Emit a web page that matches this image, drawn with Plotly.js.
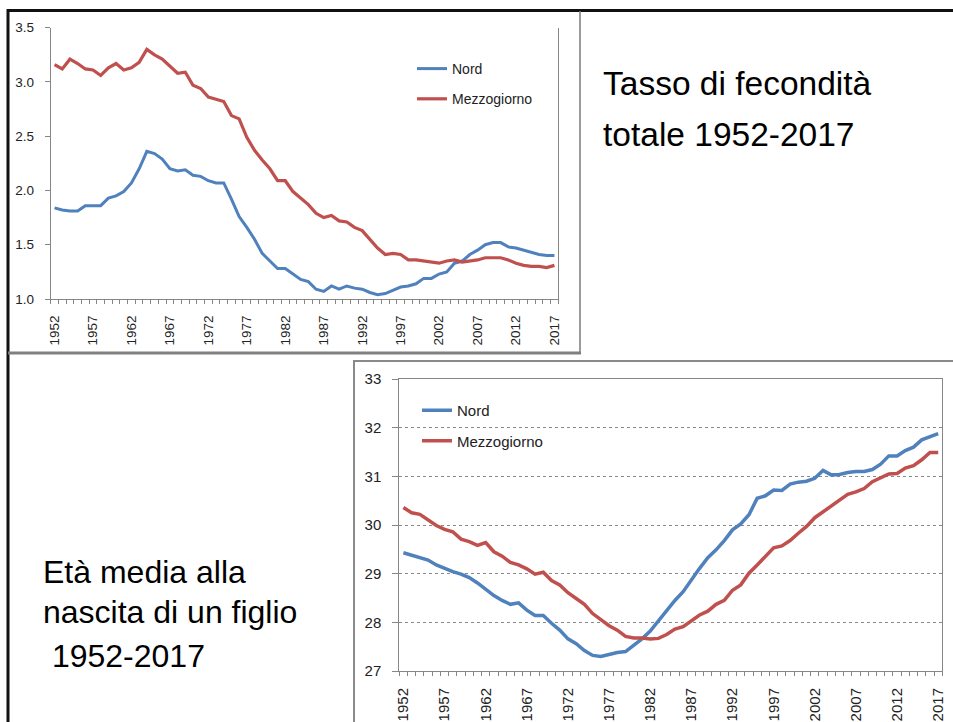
<!DOCTYPE html>
<html>
<head>
<meta charset="utf-8">
<script src="https://cdn.plot.ly/plotly-3.0.1.min.js"></script>
<style>html,body{margin:0;padding:0;background:#fff;}#chart{width:953px;height:722px;}</style>
</head>
<body>
<div id="chart"></div>
<script>
var years = [1952,1953,1954,1955,1956,1957,1958,1959,1960,1961,
  1962,1963,1964,1965,1966,1967,1968,1969,1970,1971,
  1972,1973,1974,1975,1976,1977,1978,1979,1980,1981,
  1982,1983,1984,1985,1986,1987,1988,1989,1990,1991,
  1992,1993,1994,1995,1996,1997,1998,1999,2000,2001,
  2002,2003,2004,2005,2006,2007,2008,2009,2010,2011,
  2012,2013,2014,2015,2016,2017];
var yearLabels = [1952,1957,1962,1967,1972,1977,1982,1987,1992,1997,2002,2007,2012,2017];

// Tasso di fecondità totale
var tfrNord = [1.84,1.82,1.81,1.81,1.86,1.86,1.86,1.93,1.95,1.99,
  2.07,2.20,2.36,2.34,2.29,2.20,2.18,2.19,2.14,2.13,
  2.09,2.07,2.07,1.92,1.76,1.66,1.55,1.42,1.35,1.28,
  1.28,1.23,1.18,1.16,1.09,1.07,1.12,1.09,1.12,1.10,
  1.09,1.06,1.04,1.05,1.08,1.11,1.12,1.14,1.19,1.19,
  1.23,1.25,1.33,1.35,1.41,1.45,1.50,1.52,1.52,1.48,
  1.47,1.45,1.43,1.41,1.40,1.40];
var tfrMezz = [3.16,3.12,3.21,3.17,3.12,3.11,3.06,3.13,3.17,3.11,
  3.13,3.18,3.30,3.25,3.21,3.14,3.08,3.09,2.97,2.94,
  2.86,2.84,2.82,2.69,2.66,2.49,2.37,2.28,2.20,2.09,
  2.09,1.99,1.93,1.87,1.79,1.75,1.77,1.72,1.71,1.66,
  1.63,1.55,1.47,1.41,1.42,1.41,1.36,1.36,1.35,1.34,
  1.33,1.35,1.36,1.34,1.35,1.36,1.38,1.38,1.38,1.36,
  1.33,1.31,1.30,1.30,1.29,1.31];

// Età media alla nascita di un figlio
var ageNord = [29.43,29.38,29.34,29.28,29.18,29.11,29.04,28.99,28.92,28.81,
  28.68,28.55,28.45,28.37,28.40,28.25,28.14,28.14,27.98,27.84,
  27.66,27.56,27.42,27.32,27.30,27.34,27.38,27.40,27.52,27.66,
  27.82,28.03,28.25,28.45,28.63,28.88,29.11,29.33,29.49,29.68,
  29.90,30.02,30.21,30.55,30.60,30.72,30.71,30.84,30.88,30.90,
  30.96,31.12,31.03,31.04,31.08,31.10,31.10,31.14,31.25,31.42,
  31.42,31.53,31.60,31.75,31.82,31.88];
var ageMezz = [30.36,30.25,30.22,30.11,29.99,29.91,29.86,29.71,29.66,29.58,
  29.64,29.45,29.36,29.23,29.18,29.10,28.99,29.03,28.86,28.77,
  28.61,28.49,28.37,28.18,28.05,27.93,27.84,27.71,27.68,27.68,
  27.66,27.67,27.75,27.86,27.91,28.03,28.15,28.23,28.37,28.45,
  28.66,28.77,29.01,29.18,29.36,29.53,29.57,29.68,29.83,29.97,
  30.15,30.27,30.40,30.51,30.63,30.68,30.75,30.89,30.98,31.05,
  31.06,31.17,31.22,31.34,31.49,31.49];

var seriesNames = ['Nord','Mezzogiorno'];
var blue = '#4F81BD', red = '#C0504D';
var W = 953, H = 722;
function px(x){return x/W;}
function py(y){return 1 - y/H;}

var FONT = 'Liberation Sans, Arial, sans-serif';
var axisGray = '#868686';

var traces = [
  {x: years, y: tfrNord, name: seriesNames[0], type:'scatter', mode:'lines', line:{color:blue, width:3}, xaxis:'x', yaxis:'y', legend:'legend', legendgroup:'a1'},
  {x: years, y: tfrMezz, name: seriesNames[1], type:'scatter', mode:'lines', line:{color:red, width:3.2}, xaxis:'x', yaxis:'y', legend:'legend', legendgroup:'a2'},
  {x: years, y: ageNord, name: seriesNames[0], type:'scatter', mode:'lines', line:{color:blue, width:3.5}, xaxis:'x2', yaxis:'y2', legend:'legend2', legendgroup:'b1'},
  {x: years, y: ageMezz, name: seriesNames[1], type:'scatter', mode:'lines', line:{color:red, width:3.5}, xaxis:'x2', yaxis:'y2', legend:'legend2', legendgroup:'b2'}
];

function xAxis(domain, anchor, fs, mirror){
  return {
    domain: domain, anchor: anchor, range:[1951.5, 2017.5],
    tickmode:'array', tickvals: yearLabels, ticktext: yearLabels.map(String),
    tickangle: -90, ticks:'outside', ticklen: 10, tickcolor:'rgba(0,0,0,0)',
    tickfont:{family:FONT, size:fs, color:'#222'},
    showline:true, linecolor:axisGray, linewidth:1, mirror: mirror,
    showgrid:false, zeroline:false, fixedrange:true,
    minor:{ticks:'outside', ticklen:4, tickcolor:axisGray, tickwidth:1, tickmode:'linear', tick0:1951.5, dtick:1, showgrid:false}
  };
}

var layout = {
  width: W, height: H,
  margin:{l:0,r:0,t:0,b:0, autoexpand:false},
  paper_bgcolor:'#fff', plot_bgcolor:'rgba(0,0,0,0)',
  showlegend:true,
  xaxis: xAxis([px(50.7), px(558.3)], 'y', 13.5, false),
  yaxis: {
    domain:[py(299), py(27.7)], anchor:'x', range:[1, 3.5], dtick:0.5, tick0:1, tickformat:'.1f',
    ticks:'outside', ticklen:5, tickcolor:axisGray, ticklabelstandoff:8,
    tickfont:{family:FONT, size:13.5, color:'#222'},
    showline:true, linecolor:axisGray, linewidth:1, mirror:true,
    showgrid:false, zeroline:false, fixedrange:true
  },
  yaxis3: {
    overlaying:'y', anchor:'x', range:[1, 3.5], tickmode:'array', tickvals:[2.0, 2.5, 3.5],
    showticklabels:false, ticks:'', showgrid:true, gridcolor:'#8a8a8a', griddash:'dot', gridwidth:1,
    zeroline:false, showline:false, fixedrange:true
  },
  xaxis2: xAxis([px(399.3), px(942.3)], 'y2', 15, true),
  yaxis2: {
    domain:[py(671), py(379)], anchor:'x2', range:[27, 33], dtick:1, tick0:27,
    ticks:'outside', ticklen:6, tickcolor:axisGray, ticklabelstandoff:8,
    tickfont:{family:FONT, size:15, color:'#222'},
    showline:true, linecolor:axisGray, linewidth:1, mirror:true,
    showgrid:true, gridcolor:'#8a8a8a', griddash:'dot', gridwidth:1,
    zeroline:false, fixedrange:true
  },
  legend: {
    x: px(412), y: py(53), xanchor:'left', yanchor:'top', bgcolor:'rgba(0,0,0,0)', borderwidth:0,
    font:{family:FONT, size:14, color:'#222'}, traceorder:'grouped', tracegroupgap:9, itemwidth:30
  },
  legend2: {
    x: px(417), y: py(394), xanchor:'left', yanchor:'top', bgcolor:'rgba(0,0,0,0)', borderwidth:0,
    font:{family:FONT, size:15, color:'#222'}, traceorder:'grouped', tracegroupgap:8, itemwidth:30
  },
  annotations: [
    {text:'Tasso di fecondità', xref:'paper', yref:'paper', x:px(601), y:py(83), xanchor:'left', yanchor:'middle', showarrow:false, font:{family:FONT, size:33.5, color:'#000'}},
    {text:'totale 1952-2017', xref:'paper', yref:'paper', x:px(601), y:py(134), xanchor:'left', yanchor:'middle', showarrow:false, font:{family:FONT, size:33.5, color:'#000'}},
    {text:'Età media alla', xref:'paper', yref:'paper', x:px(41), y:py(572), xanchor:'left', yanchor:'middle', showarrow:false, font:{family:FONT, size:32, color:'#000'}},
    {text:'nascita di un figlio', xref:'paper', yref:'paper', x:px(41), y:py(612), xanchor:'left', yanchor:'middle', showarrow:false, font:{family:FONT, size:32, color:'#000'}},
    {text:' 1952-2017', xref:'paper', yref:'paper', x:px(41), y:py(656), xanchor:'left', yanchor:'middle', showarrow:false, font:{family:FONT, size:32, color:'#000'}}
  ],
  shapes: [
    {type:'line', xref:'paper', yref:'paper', x0:px(7), x1:1, y0:py(10.5), y1:py(10.5), line:{color:'#111', width:3}},
    {type:'line', xref:'paper', yref:'paper', x0:px(8), x1:px(8), y0:0, y1:py(9), line:{color:'#111', width:3}},
    {type:'line', xref:'paper', yref:'paper', x0:px(580), x1:px(580), y0:py(353), y1:py(11), line:{color:'#7a7a7a', width:1.5}},
    {type:'line', xref:'paper', yref:'paper', x0:px(8), x1:px(581), y0:py(353), y1:py(353), line:{color:'#808080', width:3}},
    {type:'line', xref:'paper', yref:'paper', x0:px(354), x1:px(354), y0:0, y1:py(361), line:{color:'#8a8a8a', width:2}},
    {type:'line', xref:'paper', yref:'paper', x0:px(353), x1:1, y0:py(361), y1:py(361), line:{color:'#8a8a8a', width:2}}
  ]
};

Plotly.newPlot('chart', traces, layout, {displayModeBar:false, staticPlot:true});
</script>
</body>
</html>
